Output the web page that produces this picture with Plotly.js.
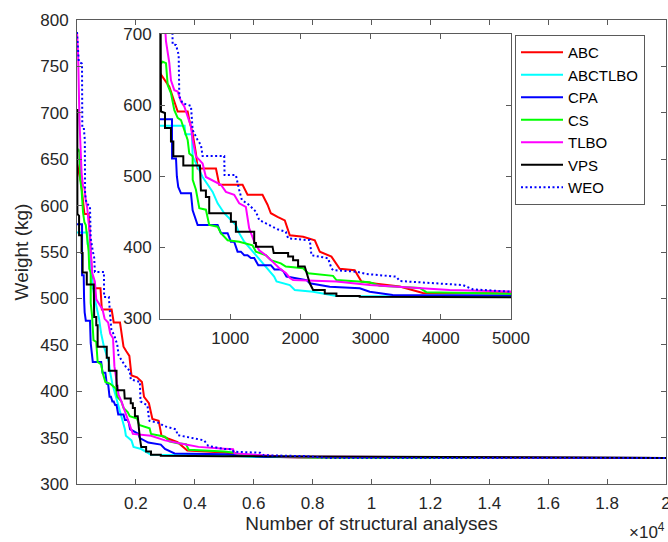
<!DOCTYPE html>
<html>
<head>
<meta charset="utf-8">
<script src="https://cdn.plot.ly/plotly-3.0.1.min.js"></script>
<style>html,body{margin:0;padding:0;background:#fff;}#chart{width:668px;height:542px;}</style>
</head>
<body>
<div id="chart"></div>
<script>
// Series data (x = number of structural analyses, y = weight in kg)
const seriesNames = ['ABC', 'ABCTLBO', 'CPA', 'CS', 'TLBO', 'VPS', 'WEO'];

const ABC_x = [0, 76, 133, 180, 228, 252, 394, 417, 465, 512, 536, 797, 844, 1176, 1247, 1460, 1532, 1579, 1674, 1778, 1849, 2039, 2205, 2276, 2442, 2560, 2774, 2869, 3083, 3414, 3745, 5000, 6000, 7500, 20000];
const ABC_y = [645, 633, 626, 612, 598, 591, 591, 579, 560, 532, 511, 511, 488, 488, 474, 474, 460, 448, 443, 438, 417, 415, 410, 394, 387, 370, 368, 352, 349, 345, 336, 334, 330, 328.5, 328];

const ABCTLBO_x = [0, 350, 360, 455, 465, 560, 607, 750, 821, 915, 1081, 1128, 1200, 1366, 1555, 1626, 1660, 1849, 1920, 2181, 2513, 5000, 6000, 20000];
const ABCTLBO_y = [571, 571, 559, 559, 528, 509, 499, 478, 462, 448, 431.5, 420, 408, 389, 368, 359, 352, 347, 340, 337.7, 331.6, 331, 329, 328];

const CPA_x = [0, 171, 172, 228, 240, 260, 299, 441, 465, 536, 821, 868, 963, 1010, 1057, 1105, 1152, 1200, 1247, 1295, 1342, 1400, 1579, 1630, 1721, 1760, 1802, 2087, 2134, 2418, 2845, 2987, 3314, 5000, 6500, 20000];
const CPA_y = [580, 580, 525, 525, 500, 485, 476, 476, 452, 431.5, 431.5, 420, 420, 408, 408, 394, 394, 389, 389, 385, 385, 375, 375, 369, 369, 366, 359, 354, 349.5, 344.7, 342.5, 337.7, 333, 332, 329, 328];

const CS_x = [0, 38, 85, 110, 156, 204, 252, 299, 346, 394, 417, 465, 466, 512, 560, 654, 701, 821, 868, 963, 1128, 1318, 1366, 1508, 1579, 1721, 1792, 2039, 2110, 2465, 2513, 2987, 3129, 3414, 3700, 3794, 5000, 5300, 5500, 6500, 8000, 20000];
const CS_y = [657, 661, 659, 628, 617, 593, 582, 579, 565, 551, 532, 528, 495, 481, 455, 453, 431.5, 429, 420, 410, 408, 403, 394, 389, 382, 377.6, 373, 370.6, 363.6, 360, 354, 351, 346, 344, 343, 337, 335, 334, 332, 330, 328.5, 328];

const TLBO_x = [0, 40, 85, 133, 156, 204, 252, 299, 346, 394, 441, 465, 512, 560, 607, 654, 725, 868, 939, 1057, 1128, 1223, 1270, 1342, 1413, 1508, 1603, 1697, 1792, 1850, 1896, 2513, 2987, 3698, 4125, 5000, 5300, 5350, 7000, 20000];
const TLBO_y = [787, 760, 690, 659, 635, 621, 619, 605, 598, 582, 570, 551, 528, 523, 518, 499, 495, 488, 478, 474, 462, 457, 427, 408, 396, 389, 380, 371, 364, 357, 354, 352, 347, 342.5, 340, 338, 337.5, 333, 329.5, 328];

const VPS_x = [0, 10, 14, 71, 71, 156, 156, 190, 190, 332, 332, 569, 583, 654, 654, 701, 701, 1010, 1010, 1081, 1081, 1342, 1342, 1366, 1366, 1603, 1620, 1825, 1825, 1896, 1896, 1967, 1967, 2062, 2134, 2181, 2347, 2347, 2513, 2513, 2845, 2845, 5000, 20000];
const VPS_y = [703, 703, 591, 589, 568, 568, 549, 549, 528, 528, 515, 515, 480, 480, 471, 471, 448, 448, 436, 436, 422, 422, 406, 406, 401, 401, 392, 392, 387, 387, 382, 382, 373, 373, 349.5, 340, 340, 335, 335, 331.6, 331.6, 330.5, 330, 328];

const WEO_x = [0, 60, 170, 180, 228, 266, 275, 322, 441, 465, 536, 583, 607, 915, 920, 1081, 1128, 1166, 1270, 1366, 1413, 1508, 1603, 1674, 1792, 1825, 2087, 2134, 2157, 2394, 2442, 2465, 2798, 2940, 3366, 3414, 4315, 4457, 5000, 5261, 5315, 6220, 6332, 7803, 8500, 20000];
const WEO_y = [787, 755, 753, 685, 684.7, 670.6, 612, 602.7, 599, 565, 551, 544, 528.5, 528.5, 501.6, 501.6, 480.7, 466.7, 459.6, 450.2, 438.5, 433.9, 429, 425.5, 422, 412.8, 410.4, 410.4, 389, 384.7, 370.6, 368, 365.8, 362.6, 358.8, 352.7, 347, 341, 337.7, 337.5, 334.8, 333.7, 331, 330, 328, 328];

// Tick labels
const mainXTicks = [2000, 4000, 6000, 8000, 10000, 12000, 14000, 16000, 18000, 20000];
const mainXTickText = ['0.2', '0.4', '0.6', '0.8', '1', '1.2', '1.4', '1.6', '1.8', '2'];
const mainYTicks = [300, 350, 400, 450, 500, 550, 600, 650, 700, 750, 800];
const insetXTicks = [1000, 2000, 3000, 4000, 5000];
const insetYTicks = [300, 400, 500, 600, 700];

const xs = [ABC_x, ABCTLBO_x, CPA_x, CS_x, TLBO_x, VPS_x, WEO_x];
const ys = [ABC_y, ABCTLBO_y, CPA_y, CS_y, TLBO_y, VPS_y, WEO_y];
const colors = ['#ff0000', '#00ffff', '#0000ff', '#00ff00', '#ff00ff', '#000000', '#0000ff'];
const dashes = ['solid', 'solid', 'solid', 'solid', 'solid', 'solid', '2px,2.5px'];

const traces = [];
for (let i = 0; i < seriesNames.length; i++) {
  traces.push({
    x: xs[i], y: ys[i], name: seriesNames[i], type: 'scatter', mode: 'lines',
    line: {color: colors[i], width: 2, dash: dashes[i]},
    xaxis: 'x', yaxis: 'y', showlegend: true, hoverinfo: 'skip'
  });
}
for (let i = 0; i < seriesNames.length; i++) {
  traces.push({
    x: xs[i], y: ys[i], name: seriesNames[i], type: 'scatter', mode: 'lines',
    line: {color: colors[i], width: 2, dash: dashes[i]},
    xaxis: 'x2', yaxis: 'y2', showlegend: false, hoverinfo: 'skip'
  });
}

const FONT = 'Liberation Sans, Arial, Helvetica, sans-serif';
const TXT = '#262626';
const AX = '#5a5a5a';

const axisCommon = {
  showgrid: false, zeroline: false, showline: true, linecolor: AX, linewidth: 1,
  mirror: 'ticks', ticks: 'inside', ticklen: 5, tickcolor: AX, tickwidth: 1,
  ticklabeloverflow: 'allow', ticklabelstandoff: 4,
  tickfont: {family: FONT, size: 17, color: TXT}
};

const W = 668, H = 542;
const L = 77, R = 2, T = 20, B = 58;
const pw = W - L - R, ph = H - T - B;
const px2x = p => (p - L) / pw;
const py2y = p => (H - B - p) / ph;

const layout = {
  width: W, height: H,
  margin: {l: L, r: R, t: T, b: B, pad: 0},
  paper_bgcolor: '#ffffff', plot_bgcolor: '#ffffff',
  font: {family: FONT, color: TXT},
  showlegend: true,
  legend: {
    x: px2x(515), y: py2y(35), xanchor: 'left', yanchor: 'top',
    bgcolor: '#ffffff', bordercolor: AX, borderwidth: 1,
    font: {family: FONT, size: 15, color: '#000000'},
    itemwidth: 42, tracegroupgap: 0,
    entrywidth: 130, entrywidthmode: 'pixels'
  },
  xaxis: Object.assign({}, axisCommon, {
    domain: [0, 1], range: [0, 20000], tickmode: 'array',
    tickvals: mainXTicks, ticktext: mainXTickText,
    title: {text: 'Number of structural analyses', font: {family: FONT, size: 19, color: TXT}, standoff: 1}
  }),
  yaxis: Object.assign({}, axisCommon, {
    domain: [0, 1], range: [300, 800], tickmode: 'array', tickvals: mainYTicks,
    title: {text: 'Weight (kg)', font: {family: FONT, size: 19, color: TXT}, standoff: 6}
  }),
  xaxis2: Object.assign({}, axisCommon, {
    domain: [px2x(160), px2x(511)], range: [0, 5000], anchor: 'y2',
    tickmode: 'array', tickvals: insetXTicks
  }),
  yaxis2: Object.assign({}, axisCommon, {
    domain: [py2y(318.5), py2y(34)], range: [300, 700], anchor: 'x2',
    tickmode: 'array', tickvals: insetYTicks
  }),
  annotations: [{
    xref: 'paper', yref: 'paper', x: px2x(667), y: py2y(531),
    xanchor: 'right', yanchor: 'middle', showarrow: false,
    text: '×10<sup>4</sup>', font: {family: FONT, size: 17, color: TXT}
  }]
};

Plotly.newPlot('chart', traces, layout, {staticPlot: true, displayModeBar: false});
</script>
</body>
</html>
